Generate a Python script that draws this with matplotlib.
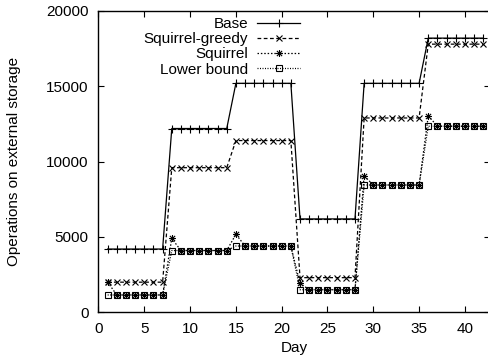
import numpy as np
import matplotlib
matplotlib.use("Agg")
import matplotlib.pyplot as plt
from matplotlib.path import Path

plt.rcParams['font.family'] = ['Liberation Sans', 'DejaVu Sans']
plt.rcParams['font.size'] = 11

# data, one value per day (weekly levels)
days = np.arange(1, 43)
base_weeks = [4200, 12200, 15200, 6200, 15200, 18200]
greedy_weeks = [2000, 9600, 11400, 2300, 12900, 17800]
lower_weeks = [1150, 4100, 4400, 1500, 8450, 12350]
# squirrel: first day of the week is higher, rest equals lower bound
squirrel_first = [2000, 4900, 5180, 1920, 9060, 13040]

base = np.repeat(base_weeks, 7)
greedy = np.repeat(greedy_weeks, 7)
lower = np.repeat(lower_weeks, 7)
squirrel = lower.copy()
squirrel[::7] = squirrel_first

xticks = [0, 5, 10, 15, 20, 25, 30, 35, 40]
yticks = [0, 5000, 10000, 15000, 20000]

# gnuplot style asterisk (+ and x on top of each other)
star = Path([(-1, 0), (1, 0), (0, -1), (0, 1), (-0.75, -0.75), (0.75, 0.75), (-0.75, 0.75), (0.75, -0.75)],
            [Path.MOVETO, Path.LINETO] * 4)

W, H = 489, 360
left, right, top, bottom = 98.5, 490.5, 11, 312.3
fig = plt.figure(figsize=(W / 100, H / 100), dpi=100)
ax = fig.add_axes([left / W, 1 - bottom / H, (right - left) / W, (bottom - top) / H])

lw = 0.9
ax.plot(days, base, '-', color='black', lw=lw, marker='+', ms=6, mew=0.8, label='Base')
ax.plot(days, greedy, color='black', lw=lw, ls=(0, (3, 2)), marker='x', ms=4.5, mew=0.8, label='Squirrel-greedy')
ax.plot(days, squirrel, color='black', lw=lw, ls=(0, (1.2, 1.5)), marker=star, ms=5, mew=0.8, label='Squirrel')
ax.plot(days, lower, color='black', lw=lw, ls=(0, (0.8, 1.2)), marker='s', ms=4.5, mew=0.8, mfc='none',
        label='Lower bound')

ax.set_xlim(0, (right - left) / 9.16)
ax.set_ylim(0, 20000)
ax.set_xticks(xticks)
ax.set_yticks(yticks)
ax.tick_params(direction='in', top=True, right=True, length=4, width=0.8, labelsize=11)
ax.tick_params(axis='y', pad=7)
ax.tick_params(axis='x', pad=7)
for s in ax.spines.values():
    s.set_linewidth(1.0)

ax.set_xlabel('Day')
ax.set_ylabel('Operations on external storage')
ax.xaxis.set_label_coords((294 - left) / (right - left), (bottom - 341) / (bottom - top))
ax.yaxis.set_label_coords((21 - left) / (right - left), 0.5)

ax.legend(loc='upper right', bbox_to_anchor=(300 / W, 1 - 17 / H), bbox_transform=fig.transFigure,
          frameon=False, markerfirst=False, handlelength=2.8, handletextpad=0.6,
          labelspacing=0.08, borderpad=0, borderaxespad=0, fontsize=11)

fig.savefig('out.png', dpi=100)
